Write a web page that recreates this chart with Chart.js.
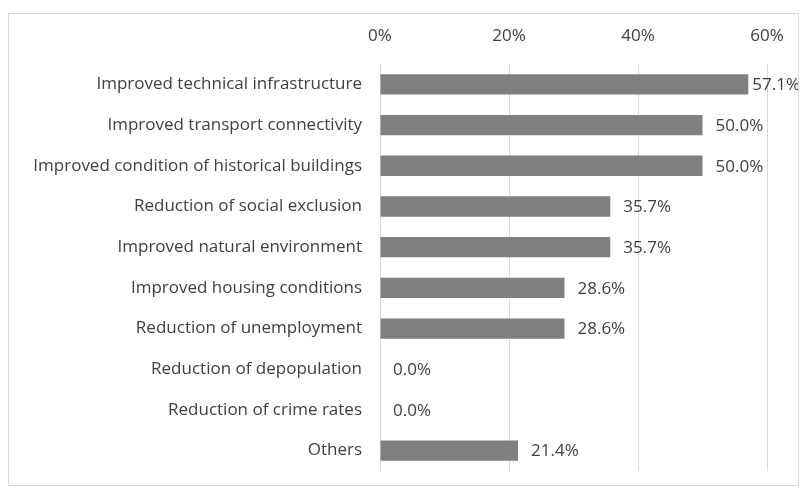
<!DOCTYPE html>
<html>
<head>
<meta charset="utf-8">
<script src="https://cdn.jsdelivr.net/npm/chart.js@4"></script>
<style>
  body { margin: 0; background: #fff; }
  #box {
    position: absolute; left: 8px; top: 13px;
    width: 789px; height: 471px;
    border: 1px solid #d9d9d9;
  }
</style>
</head>
<body>
<div id="box"><canvas id="chart"></canvas></div>
<script>
const categories = [
  "Improved technical infrastructure",
  "Improved transport connectivity",
  "Improved condition of historical buildings",
  "Reduction of social exclusion",
  "Improved natural environment",
  "Improved housing conditions",
  "Reduction of unemployment",
  "Reduction of depopulation",
  "Reduction of crime rates",
  "Others"
];
const shares = [57.1, 50.0, 50.0, 35.7, 35.7, 28.6, 28.6, 0.0, 0.0, 21.4];
const tickValues = [0, 20, 40, 60];

const textColor = "#404040";
const fontFamily = "'Open Sans', 'DejaVu Sans', sans-serif";

// value labels right of each bar (no datalabels plugin offline)
const valueLabels = {
  id: "valueLabels",
  afterDatasetsDraw(chart) {
    const c = chart.ctx;
    const meta = chart.getDatasetMeta(0);
    c.save();
    c.font = "17px " + fontFamily;
    c.fillStyle = textColor;
    c.textBaseline = "middle";
    meta.data.forEach((bar, i) => {
      const txt = shares[i].toFixed(1) + "%";
      const w = c.measureText(txt).width;
      let x = bar.x + 13;
      if (x + w > chart.width + 2) x = chart.width + 2 - w;
      c.fillText(txt, x, bar.y + 1);
    });
    c.restore();
  }
};

new Chart(document.getElementById("chart"), {
  type: "bar",
  data: {
    labels: categories,
    datasets: [{
      data: shares,
      backgroundColor: "#7f7f7f",
      categoryPercentage: 1,
      barPercentage: 0.5
    }]
  },
  options: {
    indexAxis: "y",
    responsive: true,
    maintainAspectRatio: false,
    animation: false,
    layout: { padding: { top: 0, right: 31, bottom: 14, left: 0 } },
    plugins: {
      legend: { display: false },
      tooltip: { enabled: false }
    },
    scales: {
      x: {
        position: "top",
        min: 0,
        max: 60,
        afterBuildTicks(axis) {
          axis.ticks = tickValues.map(v => ({ value: v }));
        },
        afterFit(axis) {
          axis.height = 50;
          axis.paddingLeft = 0;
          axis.paddingRight = 0;
        },
        grid: { color: "#d9d9d9", drawTicks: false },
        border: { display: false },
        ticks: {
          padding: 18,
          color: textColor,
          font: { family: fontFamily, size: 17 },
          callback: v => v + "%"
        }
      },
      y: {
        afterFit(axis) {
          axis.width = 371;
          axis.paddingTop = 0;
          axis.paddingBottom = 0;
        },
        grid: { display: false, drawTicks: false },
        border: { display: false },
        ticks: {
          padding: 18,
          color: textColor,
          font: { family: fontFamily, size: 17 },
          autoSkip: false
        }
      }
    }
  },
  plugins: [valueLabels]
});
</script>
</body>
</html>
